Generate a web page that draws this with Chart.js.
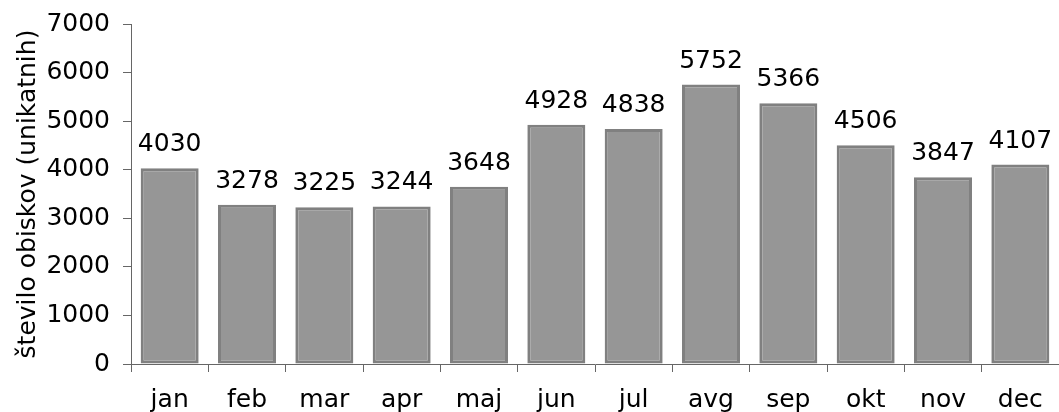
<!DOCTYPE html>
<html>
<head>
<meta charset="utf-8">
<script src="https://cdn.jsdelivr.net/npm/chart.js@4/dist/chart.umd.min.js"></script>
<style>
  html, body { margin: 0; padding: 0; background: #fff; }
  #wrap { width: 1059px; height: 412px; position: relative; }
</style>
</head>
<body>
<div id="wrap"><canvas id="visits"></canvas></div>
<script>
const months = ['jan', 'feb', 'mar', 'apr', 'maj', 'jun', 'jul', 'avg', 'sep', 'okt', 'nov', 'dec'];
const visits = [4030, 3278, 3225, 3244, 3648, 4928, 4838, 5752, 5366, 4506, 3847, 4107];
const yTicks = [0, 1000, 2000, 3000, 4000, 5000, 6000, 7000];
const yTitle = 'število obiskov (unikatnih)';

const FONT = '"DejaVu Sans", Verdana, sans-serif';
const SIZE = 25;

// values above each bar
const barLabels = {
  id: 'barLabels',
  afterDatasetsDraw(chart) {
    const ctx = chart.ctx;
    const meta = chart.getDatasetMeta(0);
    ctx.save();
    ctx.font = SIZE + 'px ' + FONT;
    ctx.fillStyle = '#000';
    ctx.textAlign = 'center';
    ctx.textBaseline = 'alphabetic';
    meta.data.forEach((bar, i) => {
      ctx.fillText(String(visits[i]), bar.x, bar.y - 17);
    });
    ctx.restore();
  }
};

new Chart(document.getElementById('visits'), {
  type: 'bar',
  data: {
    labels: months,
    datasets: [{
      data: visits,
      backgroundColor: '#969696',
      borderColor: '#808080',
      borderWidth: 3,
      borderSkipped: false,
      barPercentage: 0.75,
      categoryPercentage: 1
    }]
  },
  options: {
    responsive: true,
    maintainAspectRatio: false,
    animation: false,
    layout: { padding: { top: 24, right: 0, left: 0, bottom: 0 } },
    plugins: { legend: { display: false }, tooltip: { enabled: false } },
    scales: {
      x: {
        grid: { display: true, drawOnChartArea: false, drawTicks: true, tickLength: 8, color: '#666', offset: true },
        border: { display: true, color: '#666', width: 1 },
        ticks: { color: '#000', font: { family: FONT, size: SIZE }, padding: 13, maxRotation: 0 },
        afterFit: s => { s.height = 48; }
      },
      y: {
        min: 0, max: 7000,
        afterBuildTicks: s => { s.ticks = yTicks.map(v => ({ value: v })); },
        grid: { display: true, drawOnChartArea: false, drawTicks: true, tickLength: 8, color: '#666' },
        border: { display: true, color: '#666', width: 1 },
        ticks: { color: '#000', font: { family: FONT, size: SIZE, lineHeight: 0.8 }, padding: 13, callback: v => String(v) },
        title: { display: true, text: yTitle, color: '#000', font: { family: FONT, size: SIZE }, padding: { top: 13, bottom: 0 } },
        afterFit: s => { s.width = 131; }
      }
    }
  },
  plugins: [barLabels]
});
</script>
</body>
</html>
